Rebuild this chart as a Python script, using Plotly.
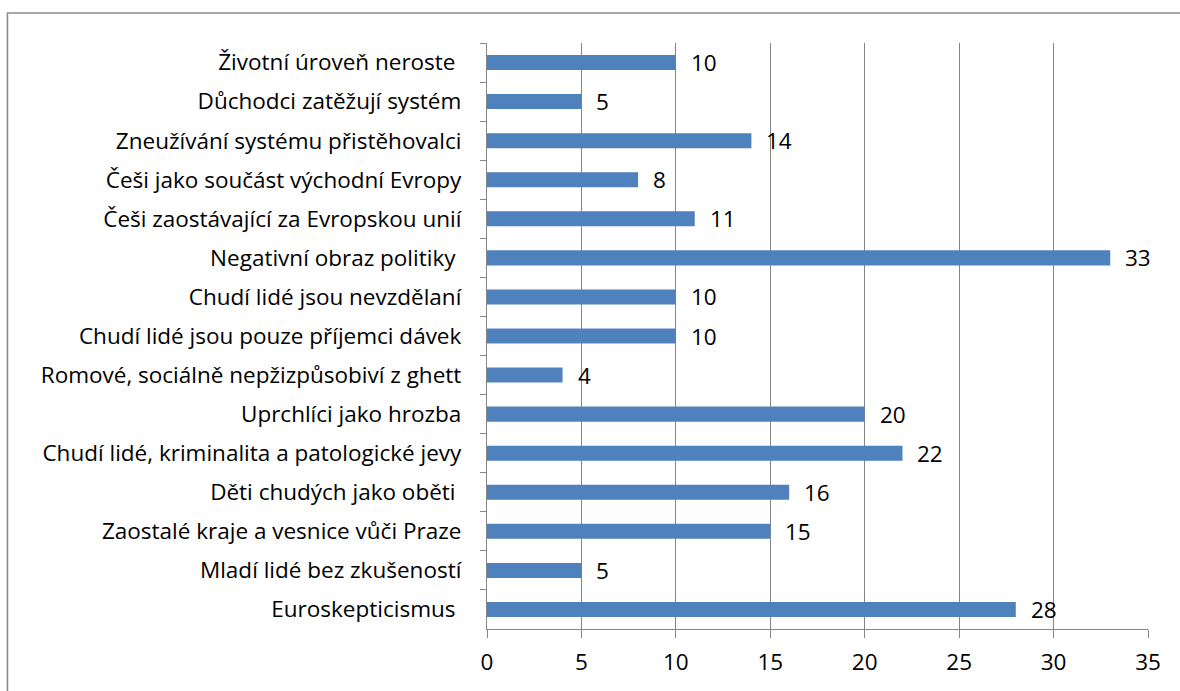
import plotly.graph_objects as go

# Categories listed top to bottom
categories = [
    "Životní úroveň neroste\u00a0",
    "Důchodci zatěžují systém",
    "Zneužívání systému přistěhovalci",
    "Češi jako součást východní Evropy",
    "Češi zaostávající za Evropskou unií",
    "Negativní obraz politiky\u00a0",
    "Chudí lidé jsou nevzdělaní",
    "Chudí lidé jsou pouze příjemci dávek",
    "Romové, sociálně nepžizpůsobiví z ghett",
    "Uprchlíci jako hrozba",
    "Chudí lidé, kriminalita a patologické jevy",
    "Děti chudých jako oběti\u00a0",
    "Zaostalé kraje a vesnice vůči Praze",
    "Mladí lidé bez zkušeností",
    "Euroskepticismus\u00a0",
]
values = [10, 5, 14, 8, 11, 33, 10, 10, 4, 20, 22, 16, 15, 5, 28]
x_ticks = [0, 5, 10, 15, 20, 25, 30, 35]

FONT = "Open Sans"
FS = 22.5
GRID = "#868686"

fig = go.Figure()
fig.add_trace(go.Bar(
    x=values,
    y=categories,
    orientation="h",
    marker=dict(color="#4F81BD", line=dict(width=0)),
    hoverinfo="x+y",
))

# Value labels to the right of each bar
for cat, v in zip(categories, values):
    fig.add_annotation(
        x=v, y=cat, xref="x", yref="y",
        text=str(v), showarrow=False,
        xanchor="left", yanchor="middle", xshift=13,
        font=dict(family=FONT, size=FS, color="black"),
    )

# Outer chart border
fig.add_shape(
    type="rect", xref="paper", yref="paper",
    x0=-0.7255, x1=1.2, y0=-0.3, y1=1.0512,
    line=dict(color="#8c8c8c", width=1.6),
    fillcolor="rgba(0,0,0,0)", layer="below",
)

fig.update_layout(
    width=1180, height=691,
    margin=dict(l=487, r=32, t=43, b=62),
    paper_bgcolor="white", plot_bgcolor="white",
    showlegend=False,
    bargap=0.615,
    font=dict(family=FONT, size=FS, color="black"),
    xaxis=dict(
        range=[0, 35], tickvals=x_ticks, ticktext=[str(t) for t in x_ticks],
        showgrid=True, gridcolor=GRID, gridwidth=1.3,
        zeroline=False,
        showline=True, linecolor=GRID, linewidth=1.3,
        ticks="outside", ticklen=8, tickcolor=GRID, tickwidth=1.3,
        ticklabelstandoff=5,
        tickfont=dict(family=FONT, size=FS, color="black"),
        fixedrange=True,
    ),
    yaxis=dict(
        categoryorder="array", categoryarray=categories,
        autorange="reversed",
        showgrid=False, zeroline=False,
        showline=True, linecolor=GRID, linewidth=1.3,
        ticks="outside", ticklen=6, tickcolor=GRID, tickwidth=1.3,
        tickson="boundaries",
        ticklabelstandoff=20,
        tickfont=dict(family=FONT, size=FS, color="black"),
        fixedrange=True,
    ),
)

fig.write_html("out.html")
